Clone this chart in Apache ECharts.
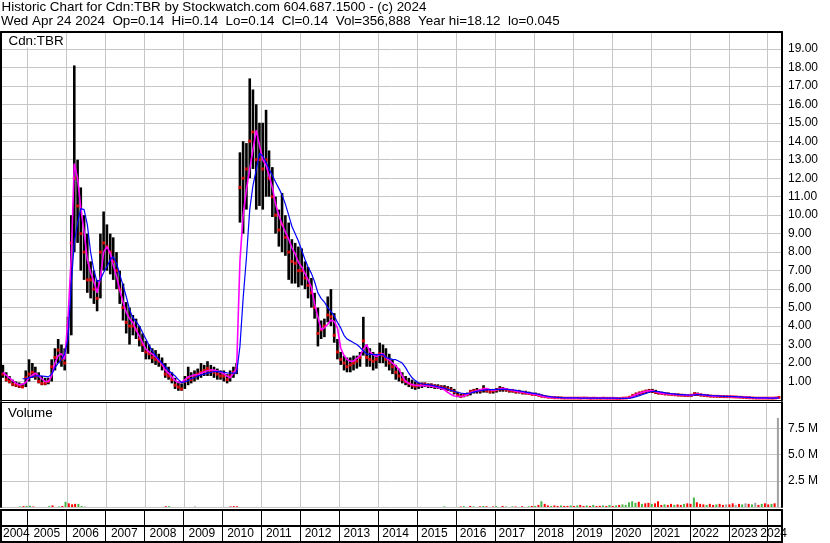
<!DOCTYPE html>
<html><head><meta charset="utf-8">
<script src="https://cdn.jsdelivr.net/npm/echarts@6/dist/echarts.min.js"></script>
<style>html,body{margin:0;padding:0;background:#fff}#c{width:830px;height:543px}</style>
</head><body><div id="c"></div>
<script>
const titleLine1 = 'Historic Chart for Cdn:TBR by Stockwatch.com 604.687.1500 - (c) 2024';
const titleLine2 = 'Wed Apr 24 2024  Op=0.14  Hi=0.14  Lo=0.14  Cl=0.14  Vol=356,888  Year hi=18.12  lo=0.045';
const symbolLabel = 'Cdn:TBR';
const volumeLabel = 'Volume';
const firstYear = 2004, firstMonth = 5; // monthly bars start May 2004
const volumeTickLabels = [2.5, 5, 7.5];

const high = [
 1.9,1.5,1.3,1.1,1.0,0.95,0.9,1.6,
 2.2,2.0,1.8,1.5,1.3,1.2,1.2,2.2,2.8,3.3,3.0,2.8,
 4.5,10.0,18.1,13.0,11.5,10.0,9.0,7.5,7.0,6.5,9.0,10.2,
 9.5,9.0,8.8,8.0,7.0,6.3,5.3,5.0,4.6,4.4,4.0,3.6,
 3.2,3.0,2.8,2.7,2.5,2.3,2.0,1.8,1.5,1.2,1.0,0.9,
 1.3,1.8,1.5,1.6,1.7,2.0,1.9,2.1,1.9,1.8,1.7,1.6,
 1.6,1.4,1.6,1.8,2.0,13.4,14.0,13.9,17.4,16.8,16.0,15.0,
 15.0,15.7,13.5,12.6,11.0,10.3,11.2,10.0,9.6,8.7,8.5,8.3,
 8.2,7.5,7.2,6.6,5.8,5.0,4.3,4.4,5.6,6.0,4.7,3.3,
 2.6,2.4,2.3,2.3,2.4,2.4,2.6,4.5,3.0,2.8,2.6,2.5,
 3.1,3.0,2.8,2.5,2.2,1.9,1.7,1.5,1.3,1.2,1.1,1.0,
 0.95,0.95,0.95,0.9,0.9,0.85,0.85,0.8,0.8,0.75,0.7,0.6,
 0.45,0.35,0.35,0.4,0.55,0.6,0.65,0.6,0.8,0.65,0.6,0.6,
 0.65,0.75,0.7,0.65,0.6,0.6,0.55,0.55,0.5,0.5,0.45,0.4,
 0.4,0.35,0.3,0.25,0.22,0.2,0.2,0.18,0.17,0.16,0.15,0.15,
 0.15,0.14,0.14,0.15,0.14,0.13,0.14,0.13,0.13,0.14,0.13,0.13,
 0.13,0.13,0.12,0.13,0.14,0.2,0.3,0.4,0.45,0.5,0.55,0.6,
 0.6,0.55,0.48,0.45,0.42,0.4,0.38,0.36,0.35,0.33,0.32,0.3,
 0.32,0.42,0.4,0.35,0.32,0.3,0.28,0.27,0.26,0.25,0.25,0.24,
 0.24,0.22,0.22,0.2,0.19,0.18,0.17,0.16,0.15,0.15,0.14,0.14,
 0.14,0.14,0.15,0.2
];
const low = [
 1.2,1.0,0.9,0.75,0.7,0.65,0.65,0.7,
 1.0,1.2,1.1,0.9,0.8,0.8,0.85,1.0,1.6,2.0,1.8,1.6,
 2.5,3.5,8.0,8.5,7.0,6.5,5.8,5.5,5.2,4.8,5.5,7.0,
 7.0,6.8,6.5,6.0,5.2,4.3,3.6,3.0,3.5,3.3,2.9,2.6,
 2.2,2.2,2.0,1.9,1.8,1.6,1.2,1.1,0.9,0.6,0.5,0.5,
 0.6,0.8,0.9,1.0,1.1,1.2,1.3,1.3,1.3,1.2,1.1,1.1,
 1.0,0.9,1.0,1.2,1.4,9.6,9.0,10.3,12.0,12.5,10.3,10.5,
 10.3,11.0,11.0,9.9,9.0,8.3,8.0,7.8,6.5,6.3,6.3,6.1,
 6.2,6.0,5.5,5.0,4.4,2.9,3.3,3.4,4.2,4.0,3.1,2.2,
 1.9,1.6,1.5,1.5,1.6,1.7,1.8,2.4,1.8,1.8,1.6,1.7,
 2.0,2.0,1.8,1.6,1.4,1.1,1.0,0.9,0.8,0.7,0.6,0.55,
 0.6,0.65,0.7,0.65,0.65,0.6,0.6,0.55,0.55,0.5,0.45,0.3,
 0.15,0.12,0.15,0.2,0.25,0.35,0.35,0.35,0.4,0.4,0.35,0.35,
 0.4,0.45,0.45,0.45,0.4,0.4,0.35,0.35,0.3,0.3,0.28,0.25,
 0.22,0.2,0.15,0.12,0.1,0.1,0.08,0.08,0.08,0.07,0.07,0.06,
 0.06,0.06,0.06,0.07,0.06,0.06,0.06,0.06,0.05,0.06,0.06,0.06,
 0.06,0.05,0.05,0.06,0.07,0.08,0.12,0.2,0.25,0.3,0.35,0.38,
 0.38,0.33,0.3,0.28,0.26,0.25,0.24,0.22,0.2,0.2,0.18,0.17,
 0.18,0.22,0.22,0.2,0.18,0.16,0.15,0.14,0.14,0.13,0.13,0.12,
 0.12,0.12,0.11,0.1,0.09,0.08,0.08,0.07,0.06,0.06,0.06,0.06,
 0.05,0.05,0.06,0.1
];
const close = [
 1.4,1.1,1.0,0.85,0.8,0.75,0.7,1.2,
 1.4,1.5,1.3,1.0,0.9,0.9,1.0,1.8,2.3,2.7,2.2,2.0,
 4.0,8.5,12.0,10.5,9.0,8.0,6.5,6.5,6.0,5.5,8.0,8.5,
 8.3,8.0,7.5,7.0,6.0,5.0,4.2,4.0,4.0,3.8,3.3,3.0,
 2.6,2.5,2.3,2.2,2.1,1.9,1.4,1.3,1.1,0.8,0.7,0.6,
 1.0,1.2,1.1,1.3,1.4,1.5,1.6,1.7,1.6,1.5,1.4,1.3,
 1.3,1.1,1.3,1.5,1.7,11.5,12.0,12.5,14.0,14.5,13.0,13.0,
 12.5,13.0,12.0,11.0,10.0,9.2,9.5,8.8,8.0,7.5,7.4,7.0,
 7.0,6.6,6.2,5.8,5.0,3.6,3.8,4.0,4.6,4.5,3.5,2.6,
 2.2,2.0,1.8,1.9,2.0,2.1,2.3,3.2,2.3,2.2,2.1,2.2,
 2.5,2.4,2.2,2.0,1.8,1.5,1.3,1.1,1.0,0.9,0.8,0.75,
 0.8,0.85,0.85,0.8,0.8,0.75,0.72,0.7,0.65,0.6,0.55,0.45,
 0.25,0.2,0.25,0.3,0.45,0.5,0.5,0.5,0.6,0.5,0.45,0.5,
 0.55,0.6,0.6,0.55,0.5,0.5,0.45,0.45,0.4,0.38,0.35,0.3,
 0.3,0.25,0.2,0.18,0.15,0.14,0.12,0.12,0.11,0.1,0.1,0.1,
 0.1,0.1,0.1,0.11,0.1,0.09,0.1,0.09,0.09,0.1,0.09,0.09,
 0.09,0.08,0.08,0.1,0.11,0.15,0.25,0.32,0.38,0.42,0.48,0.5,
 0.48,0.42,0.38,0.35,0.33,0.32,0.3,0.28,0.27,0.26,0.25,0.24,
 0.26,0.33,0.3,0.27,0.25,0.23,0.21,0.2,0.2,0.19,0.18,0.18,
 0.18,0.17,0.16,0.15,0.14,0.13,0.12,0.11,0.1,0.1,0.1,0.1,
 0.1,0.1,0.11,0.14
];
const maFast = [
 1.5,1.35,1.2,1.05,0.9,0.82,0.85,0.95,
 1.2,1.35,1.45,1.3,1.15,1.0,1.0,1.3,2.0,2.4,2.5,2.2,
 4.4,7.8,12.8,12.0,10.4,9.1,7.6,6.9,6.4,5.8,6.6,8.0,
 8.3,7.95,7.3,6.7,5.95,5.3,4.75,4.4,4.2,3.8,3.45,3.1,
 2.75,2.6,2.48,2.35,2.15,1.95,1.6,1.45,1.25,1.05,0.95,0.95,
 1.1,1.25,1.3,1.37,1.37,1.45,1.52,1.58,1.62,1.62,1.57,1.5,
 1.42,1.3,1.2,1.45,1.7,7.5,10.0,11.4,12.5,13.55,14.6,13.8,
 13.0,12.7,12.15,11.5,10.6,10.0,9.5,9.1,8.7,8.25,7.9,7.45,
 7.2,6.85,6.5,6.1,5.2,4.5,3.8,3.9,4.1,4.33,4.25,3.9,
 2.8,2.4,2.2,2.1,2.1,2.25,2.4,2.75,3.0,2.6,2.45,2.35,
 2.45,2.5,2.3,2.15,2.0,1.85,1.65,1.3,1.0,0.9,0.83,0.8,
 0.78,0.78,0.77,0.76,0.74,0.72,0.68,0.62,0.55,0.42,0.3,0.22,
 0.2,0.19,0.22,0.3,0.4,0.46,0.5,0.55,0.6,0.62,0.55,0.52,
 0.55,0.6,0.62,0.6,0.55,0.52,0.48,0.45,0.42,0.4,0.36,0.33,
 0.3,0.26,0.22,0.18,0.15,0.14,0.13,0.12,0.12,0.11,0.1,0.1,
 0.1,0.1,0.09,0.1,0.1,0.09,0.09,0.1,0.1,0.09,0.09,0.09,
 0.09,0.09,0.08,0.09,0.1,0.12,0.2,0.3,0.36,0.42,0.47,0.5,
 0.5,0.45,0.4,0.36,0.34,0.33,0.31,0.29,0.28,0.27,0.26,0.25,
 0.26,0.3,0.32,0.29,0.26,0.24,0.22,0.21,0.2,0.2,0.19,0.19,
 0.18,0.18,0.17,0.16,0.15,0.14,0.13,0.12,0.11,0.1,0.1,0.1,
 0.1,0.1,0.1,0.12
];
const maSlow = [
 null,null,null,null,null,null,1.15,1.15,
 1.2,1.25,1.3,1.3,1.3,1.28,1.25,1.4,1.75,2.0,2.2,2.5,
 3.3,6.3,8.5,9.6,10.35,10.3,9.5,8.0,7.0,6.4,6.5,6.9,
 7.2,7.6,7.75,7.4,6.8,6.2,5.6,4.9,4.45,4.25,4.0,3.65,
 3.3,2.95,2.65,2.4,2.2,2.0,1.8,1.6,1.45,1.3,1.1,0.95,
 0.98,1.05,1.15,1.22,1.3,1.35,1.4,1.45,1.5,1.54,1.54,1.54,
 1.5,1.47,1.46,1.45,1.46,2.9,5.5,7.7,10.3,11.6,12.45,13.35,
 13.2,12.85,12.5,12.15,11.8,11.45,11.1,10.6,10.0,9.4,9.0,8.6,
 8.1,7.6,7.2,6.85,6.4,5.8,5.5,5.3,5.0,4.8,4.55,4.2,
 3.9,3.5,3.3,3.2,3.1,3.0,2.85,2.65,2.5,2.47,2.45,2.45,
 2.45,2.45,2.3,2.25,2.2,2.18,2.1,2.0,1.75,1.45,1.2,1.05,
 0.92,0.88,0.85,0.83,0.8,0.76,0.72,0.68,0.64,0.58,0.52,0.47,
 0.42,0.38,0.35,0.35,0.38,0.43,0.47,0.5,0.53,0.55,0.56,0.56,
 0.57,0.58,0.58,0.58,0.56,0.54,0.52,0.49,0.46,0.43,0.4,0.37,
 0.34,0.31,0.27,0.23,0.2,0.17,0.15,0.14,0.13,0.12,0.12,0.11,
 0.11,0.11,0.1,0.1,0.1,0.1,0.1,0.1,0.1,0.1,0.1,0.1,
 0.1,0.1,0.09,0.09,0.09,0.1,0.13,0.18,0.24,0.3,0.36,0.42,
 0.46,0.47,0.45,0.42,0.39,0.36,0.34,0.32,0.3,0.29,0.28,0.27,
 0.27,0.28,0.29,0.29,0.28,0.26,0.24,0.23,0.22,0.21,0.2,0.2,
 0.19,0.19,0.18,0.17,0.16,0.15,0.14,0.13,0.12,0.12,0.11,0.11,
 0.1,0.1,0.1,0.11
];
// volume in millions of shares
const volume = [
 0,0,0,0,0,0.05,0.08,0.1,
 0.12,0.05,0,0,0,0,0.08,0.15,0,0.05,0.1,0.5,
 0.35,0.25,0.3,0.3,0.1,0.05,0,0,0,0,0,0,
 0,0,0,0,0,0,0,0,0,0,0,0,
 0,0,0,0,0,0,0.07,0.08,0,0,0,0,
 0,0,0,0.05,0,0,0,0,0,0,0,0,
 0,0,0.06,0.08,0.07,0,0,0,0,0,0,0,
 0,0,0,0,0,0,0,0,0,0,0,0,
 0,0,0,0,0,0,0,0,0,0,0,0,
 0,0,0,0,0,0,0,0,0,0,0,0,
 0,0,0,0,0,0,0,0,0,0,0,0,
 0,0,0,0,0,0,0,0,0.06,0,0,0,
 0,0.05,0.08,0,0.1,0.06,0,0.06,0.1,0.07,0,0.05,
 0.08,0,0.1,0.05,0,0.06,0.05,0,0.07,0,0.06,0.1,
 0.1,0.2,0.55,0.3,0.15,0.1,0.15,0.1,0.15,0.1,0.1,0.15,
 0.1,0.15,0.2,0.1,0.15,0.1,0.2,0.1,0.12,0.15,0.1,0.2,
 0.1,0.15,0.2,0.25,0.2,0.45,0.55,0.4,0.5,0.3,0.35,0.4,
 0.3,0.35,0.55,0.2,0.25,0.2,0.3,0.2,0.25,0.2,0.3,0.35,
 0.3,0.9,0.45,0.3,0.25,0.2,0.3,0.2,0.25,0.3,0.2,0.25,
 0.25,0.35,0.2,0.3,0.25,0.35,0.3,0.25,0.4,0.2,0.3,0.35,
 0.25,0.3,0.35,8.5
];
// g = up day, r = down day, n = unchanged
const volumeDirection =
 'nnnnngrg' +
 'grnnnngrngrg' + 'rrrggnnnnnnn' + 'nnnnnnnnnnnn' + 'nnnnnnrgnnnn' +
 'nnnnnnnnnnnn' + 'nnrrrnnnnnnn' + 'nnnnnnnnnnnn' + 'nnnnnnnnnnnn' +
 'nnnnnnnnnnnn' + 'nnnnnnnnnnnn' + 'nnnnnnnngnnn' + 'nrgnrgnrgrnr' +
 'grrgngrnrngr' + 'grgrrgrrgrrg' + 'rgrrgrgrrgrg' + 'rgrgggggrgrr' +
 'grrrgrrgrrgr' + 'rgrrrgrrgrrn' + 'rrnrgnrgnrgr' + 'rgrn';

// ---- layout / styling ----
const FONT = '"Liberation Sans", Arial, sans-serif';
const BIG = '13.4px ' + FONT;
const GRIDC = '#c6c6c6';
const dates = high.map((_, i) => new Date(firstYear, firstMonth - 1 + i, 15).getTime());
const xMin = new Date(2004, 3, 27).getTime();
const xMax = new Date(2024, 4, 14).getTime();
const PL = 1, PW = 781;           // plot left / width
const msPerPx = (xMax - xMin) / PW;
const LL = -3, LW = 790;          // label strip left / width (same scale)
const labelMin = xMin + (LL - PL) * msPerPx;
const labelMax = labelMin + LW * msPerPx;
const YEAR = 365 * 86400000;
const dirColor = { g: '#45b545', r: '#ff0000', n: '#a0a0a0' };

const timeAxis = (gridIndex, extra) => Object.assign({
  type: 'time', gridIndex, min: xMin, max: xMax, minInterval: YEAR, maxInterval: YEAR,
  axisLine: { show: false }, axisTick: { show: false }, axisLabel: { show: false },
  splitLine: { show: false }
}, extra);
const blackLine = w => ({ show: true, onZero: false, lineStyle: { color: '#000', width: w } });
const borderY = (gridIndex, position) => ({
  type: 'value', gridIndex, position, min: 0, max: 1,
  axisLine: blackLine(2), axisTick: { show: false }, axisLabel: { show: false }, splitLine: { show: false }
});

const chart = echarts.init(document.getElementById('c'), null, { renderer: 'canvas' });
chart.setOption({
  animation: false,
  backgroundColor: '#fff',
  textStyle: { fontFamily: FONT },
  grid: [
    { left: PL, width: PW, top: 32, height: 368 },     // price
    { left: PL, width: PW, top: 402, height: 105 },    // volume
    { left: PL, width: PW, top: 510, height: 32 },     // year strip
    { left: LL, width: LW, top: 520, height: 7 }       // year labels
  ],
  xAxis: [
    timeAxis(0, { position: 'bottom', axisLine: blackLine(1), splitLine: { show: true, lineStyle: { color: GRIDC, width: 1 } } }),
    timeAxis(0, { position: 'top', axisLine: blackLine(2) }),
    timeAxis(1, { position: 'top', axisLine: blackLine(1), splitLine: { show: true, lineStyle: { color: GRIDC, width: 1 } } }),
    timeAxis(2, { position: 'bottom', axisLine: blackLine(2), splitLine: { show: true, lineStyle: { color: '#000', width: 1 } } }),
    timeAxis(2, { position: 'top', axisLine: blackLine(2) }),
    timeAxis(3, {
      position: 'bottom', min: labelMin, max: labelMax,
      axisLabel: {
        show: true, color: '#000', fontSize: 12, fontFamily: FONT, margin: 1,
        align: 'left', padding: [0, 0, 0, 2], showMinLabel: true, showMaxLabel: true,
        alignMaxLabel: 'right', hideOverlap: false,
        formatter: v => {
          const y = new Date(v).getFullYear();
          if (v !== labelMax && y === new Date(labelMax).getFullYear()) return '';
          return String(y);
        }
      }
    })
  ],
  yAxis: [
    { type: 'value', gridIndex: 0, position: 'right', min: 0, max: 19.91, interval: 1,
      axisLine: blackLine(2), axisTick: { show: false },
      axisLabel: { color: '#000', fontSize: 12, fontFamily: FONT, margin: 6,
        formatter: v => (v >= 1 && v <= 19 && Math.abs(v - Math.round(v)) < 1e-6) ? v.toFixed(2) : '' },
      splitLine: { show: true, lineStyle: { color: GRIDC, width: 1 } } },
    borderY(0, 'left'),
    { type: 'value', gridIndex: 1, position: 'right', min: 0, max: 10.02, interval: 2.5,
      axisLine: blackLine(2), axisTick: { show: false },
      axisLabel: { color: '#000', fontSize: 12, fontFamily: FONT, margin: 6,
        formatter: v => volumeTickLabels.some(t => Math.abs(t - v) < 1e-6) ? v.toFixed(1) + ' M' : '' },
      splitLine: { show: true, lineStyle: { color: GRIDC, width: 1 } } },
    borderY(1, 'left'),
    { type: 'value', gridIndex: 2, position: 'right', min: 0, max: 2, interval: 1,
      axisLine: blackLine(2), axisTick: { show: false }, axisLabel: { show: false },
      splitLine: { show: true, lineStyle: { color: '#000', width: 2 } } },
    borderY(2, 'left'),
    { type: 'value', gridIndex: 3, show: false, min: 0, max: 1 }
  ],
  graphic: [
    { type: 'text', z: 10, style: { x: 1.5, y: 7.2, verticalAlign: 'middle', text: titleLine1, font: BIG, fill: '#000' } },
    { type: 'text', z: 10, style: { x: 1, y: 21.5, verticalAlign: 'middle', text: titleLine2, font: BIG, fill: '#000' } },
    { type: 'rect', shape: { x: 2.5, y: 33.5, width: 62, height: 14 }, z: 1, style: { fill: '#fff' } },
    { type: 'text', z: 10, style: { x: 8.5, y: 41.8, verticalAlign: 'middle', text: symbolLabel, font: BIG, fill: '#000' } },
    { type: 'text', z: 10, style: { x: 8, y: 413, verticalAlign: 'middle', text: volumeLabel, font: BIG, fill: '#000' } }
  ],
  series: [
    { type: 'custom', xAxisIndex: 0, yAxisIndex: 0, z: 3,
      data: dates.map((d, i) => [d, low[i], high[i]]),
      encode: { x: 0, y: [1, 2] },
      renderItem: (params, api) => {
        const pLow = api.coord([api.value(0), api.value(1)]);
        const pHigh = api.coord([api.value(0), api.value(2)]);
        return { type: 'rect', shape: { x: pLow[0] - 1.3, y: pHigh[1], width: 2.6, height: Math.max(1, pLow[1] - pHigh[1]) },
                 style: { fill: '#000' } };
      } },
    { type: 'scatter', xAxisIndex: 0, yAxisIndex: 0, z: 4, symbol: 'rect', symbolSize: 3,
      itemStyle: { color: '#ff0000' }, data: dates.map((d, i) => [d, close[i]]) },
    { type: 'line', xAxisIndex: 0, yAxisIndex: 0, z: 5, showSymbol: false, symbol: 'none',
      lineStyle: { color: '#ff00ff', width: 1.6 }, data: dates.map((d, i) => [d, maFast[i]]) },
    { type: 'line', xAxisIndex: 0, yAxisIndex: 0, z: 6, showSymbol: false, symbol: 'none',
      lineStyle: { color: '#0000ff', width: 1.2 }, data: dates.map((d, i) => [d, maSlow[i]]) },
    { type: 'bar', xAxisIndex: 2, yAxisIndex: 2, barWidth: 2,
      data: dates.map((d, i) => ({ value: [d, volume[i]], itemStyle: { color: dirColor[volumeDirection[i]] } })) }
  ]
});
</script></body></html>
